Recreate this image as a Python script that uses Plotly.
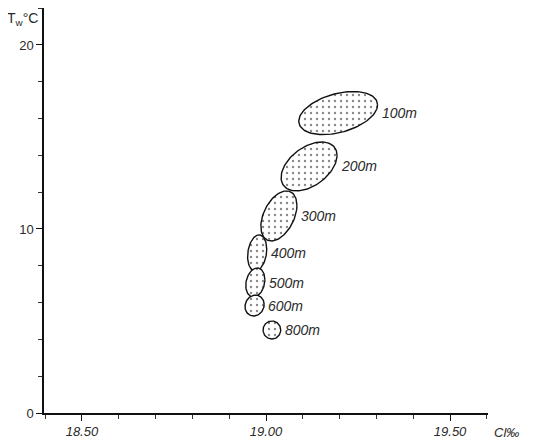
import numpy as np
import plotly.graph_objects as go

# Depth groups (water masses)
depths = ["100m", "200m", "300m", "400m", "500m", "600m", "800m"]
# ellipse centres: chlorinity (‰) and water temperature (°C)
cl_center = [19.196, 19.117, 19.035, 18.976, 18.971, 18.969, 19.016]
t_center = [16.30, 13.40, 10.71, 8.70, 7.09, 5.84, 4.51]
# half-ranges of each ellipse in Cl and T
cl_half = [0.107, 0.076, 0.049, 0.026, 0.026, 0.026, 0.024]
t_half = [1.17, 1.33, 1.36, 0.98, 0.79, 0.57, 0.49]
# Cl–T correlation of each ellipse (tilt)
corr = [0.38, 0.45, 0.42, 0.2, 0.2, 0.1, 0.0]

x_tickvals = [18.5, 19.0, 19.5]
x_ticktext = ["18.50", "19.00", "19.50"]
y_tickvals = [0, 10, 20]
y_ticktext = ["0", "10", "20"]

FONT = "Liberation Sans"
INK = "#2a2a2a"

fig = go.Figure()
tt = np.linspace(0, 2 * np.pi, 120)
for name, cx, cy, ax, ay, r in zip(depths, cl_center, t_center, cl_half, t_half, corr):
    phi = np.arccos(r)
    xs = cx + ax * np.cos(tt)
    ys = cy + ay * np.cos(tt - phi)
    fig.add_trace(go.Scatter(
        x=xs, y=ys, mode="lines", fill="toself",
        line=dict(color="#111111", width=1.4),
        fillcolor="white",
        fillpattern=dict(shape=".", size=6, solidity=0.12, fgcolor="#111111", bgcolor="white"),
        showlegend=False, hoverinfo="skip", name=name,
    ))
    fig.add_annotation(
        x=cx + ax, y=cy, text=name, showarrow=False,
        xanchor="left", yanchor="middle", xshift=2,
        font=dict(family=FONT, size=14, color=INK, style="italic"),
    )

fig.add_annotation(
    xref="paper", yref="paper", x=-0.009, y=1.0, text="T<sub>w</sub>°C",
    showarrow=False, xanchor="right", yanchor="top",
    font=dict(family=FONT, size=14, color=INK),
)
fig.add_annotation(
    xref="paper", yref="paper", x=1.009, y=-0.047, text="Cl‰",
    showarrow=False, xanchor="left", yanchor="middle",
    font=dict(family=FONT, size=13, color=INK, style="italic"),
)

fig.update_xaxes(
    range=[18.397, 19.603], showgrid=False, zeroline=False,
    showline=True, linecolor="#111111", linewidth=1.5,
    tickvals=x_tickvals, ticktext=x_ticktext, ticks="outside", ticklen=6,
    tickcolor="#111111", tickwidth=1,
    minor=dict(ticks="outside", dtick=0.1, tick0=18.5, ticklen=4, tickcolor="#333333", showgrid=False),
    tickfont=dict(family=FONT, size=13, color=INK, style="italic"),
)
fig.update_yaxes(
    range=[0, 22.01], showgrid=False, zeroline=False,
    showline=True, linecolor="#111111", linewidth=1.5,
    tickvals=y_tickvals, ticktext=y_ticktext, ticks="outside", ticklen=6,
    tickcolor="#111111", tickwidth=1,
    minor=dict(ticks="outside", dtick=2, tick0=0, ticklen=4, tickcolor="#333333", showgrid=False),
    tickfont=dict(family=FONT, size=13, color=INK),
)
# page body adds an 8px offset, so the figure is sized and margined to compensate
fig.update_layout(
    width=525, height=432,
    margin=dict(l=36, r=45, t=0, b=27),
    paper_bgcolor="white", plot_bgcolor="white",
)
fig.write_html("out.html")
